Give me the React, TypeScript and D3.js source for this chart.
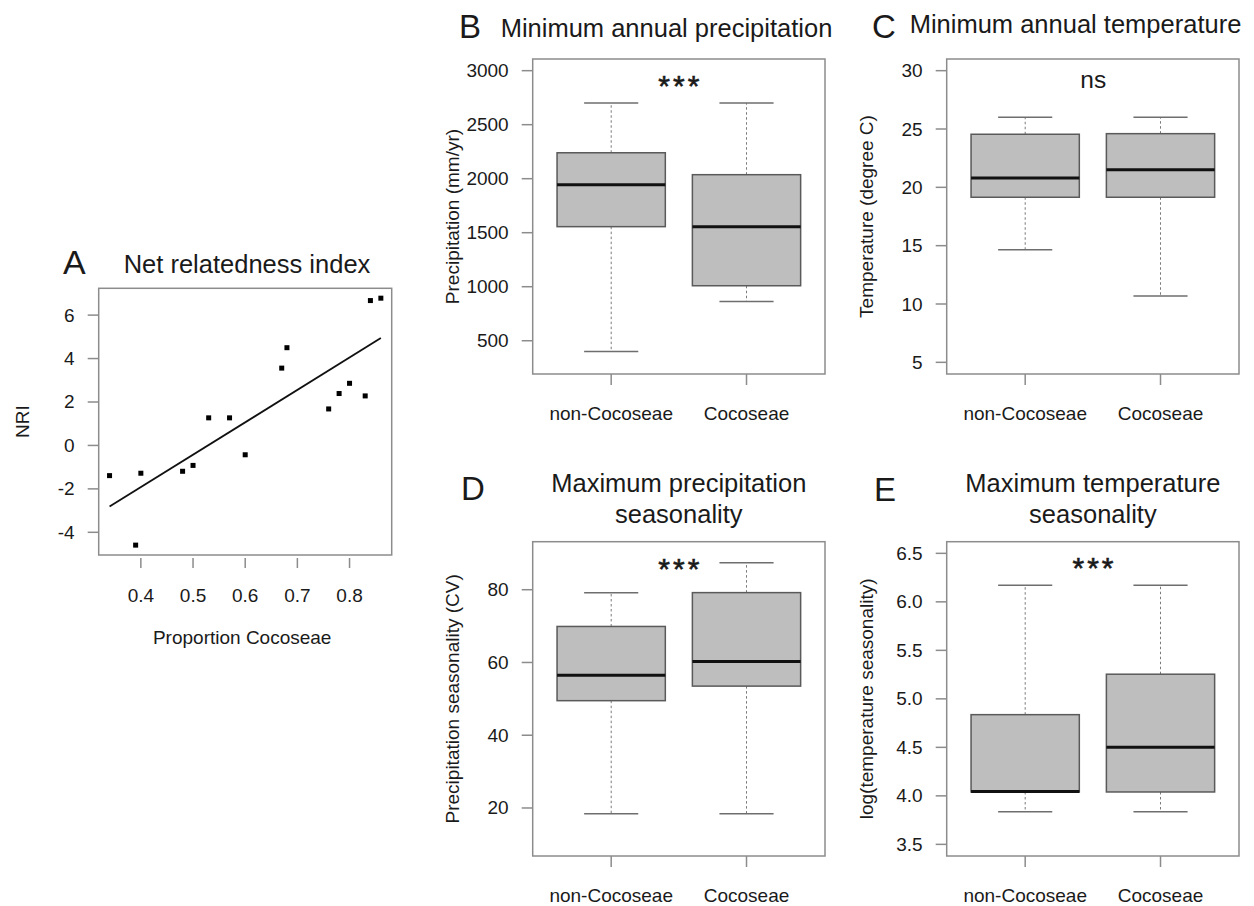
import React from "react";
import * as d3 from "d3";

// ---------- Data ----------
const nriProportion = [0.34, 0.39, 0.40, 0.48, 0.50, 0.53, 0.57, 0.60, 0.67, 0.68, 0.76, 0.78, 0.80, 0.83, 0.84, 0.86];
const nriValues = [-1.39, -4.59, -1.28, -1.19, -0.92, 1.27, 1.27, -0.43, 3.56, 4.50, 1.68, 2.39, 2.86, 2.28, 6.67, 6.78];
const nriXTicks = [0.4, 0.5, 0.6, 0.7, 0.8];
const nriYTicks = [-4, -2, 0, 2, 4, 6];

const groups = ["non-Cocoseae", "Cocoseae"];
// [lower whisker, Q1, median, Q3, upper whisker]
const minPrecip = [[400, 1556, 1944, 2240, 2700], [864, 1009, 1556, 2037, 2700]];
const minTemp = [[14.65, 19.15, 20.8, 24.55, 26], [10.68, 19.15, 21.5, 24.6, 26]];
const maxPrecipSeas = [[18.4, 49.5, 56.5, 69.9, 79.2], [18.4, 53.5, 60.3, 79.2, 87.4]];
const maxTempSeas = [[3.835, 4.04, 4.044, 4.837, 6.17], [3.835, 4.04, 4.5, 5.254, 6.17]];

const precipTicks = [500, 1000, 1500, 2000, 2500, 3000];
const tempTicks = [5, 10, 15, 20, 25, 30];
const seasTicks = [20, 40, 60, 80];
const logTicks = [3.5, 4.0, 4.5, 5.0, 5.5, 6.0, 6.5];

const FONT = "'Liberation Sans', Arial, sans-serif";
const TXT = "#1a1a1a";
const FRAME = "#8c8c8c";

function yPad(lo: number, hi: number): [number, number] {
  const r = hi - lo;
  return [lo - 0.04 * r, hi + 0.04 * r];
}

type BoxPanelProps = {
  left: number; top: number; right: number; bottom: number;
  stats: number[][]; ylim: [number, number]; ticks: number[]; fmt: (v: number) => string;
  yLabel: string; letter: string; letterX: number; letterY: number;
  titleLines: string[]; titleX: number; titleY: number;
  annot: string; annotY: number; annotX: number; stars: boolean;
};

function BoxPanel(p: BoxPanelProps) {
  const y = d3.scaleLinear().domain(yPad(p.ylim[0], p.ylim[1])).range([p.bottom, p.top]);
  const x = d3.scaleLinear().domain([0.42, 2.58]).range([p.left, p.right]);
  const bw = x(1.4) - x(1);
  const cw = x(1.2) - x(1);
  const midY = (p.top + p.bottom) / 2;
  return (
    <g>
      <text x={p.letterX} y={p.letterY} fontSize={33} fill={TXT} fontFamily={FONT}>{p.letter}</text>
      {p.titleLines.map((t, i) => (
        <text key={i} x={p.titleX} y={p.titleY + i * 31} fontSize={25.5} textAnchor="middle" fill={TXT} fontFamily={FONT}>{t}</text>
      ))}
      {groups.map((g, i) => {
        const s = p.stats[i];
        const cx = x(i + 1);
        return (
          <g key={g}>
            <line x1={cx} x2={cx} y1={y(s[3])} y2={y(s[4])} stroke="#7a7a7a" strokeWidth={1} strokeDasharray="2.5,2.5" />
            <line x1={cx} x2={cx} y1={y(s[1])} y2={y(s[0])} stroke="#7a7a7a" strokeWidth={1} strokeDasharray="2.5,2.5" />
            <line x1={cx - cw} x2={cx + cw} y1={y(s[4])} y2={y(s[4])} stroke="#6e6e6e" strokeWidth={1.5} />
            <line x1={cx - cw} x2={cx + cw} y1={y(s[0])} y2={y(s[0])} stroke="#6e6e6e" strokeWidth={1.5} />
            <rect x={cx - bw} y={y(s[3])} width={2 * bw} height={y(s[1]) - y(s[3])} fill="#bebebe" stroke="#5a5a5a" strokeWidth={1.5} />
            <line x1={cx - bw} x2={cx + bw} y1={y(s[2])} y2={y(s[2])} stroke="#111" strokeWidth={3} />
            <line x1={cx} x2={cx} y1={p.bottom} y2={p.bottom + 11} stroke={FRAME} strokeWidth={1.5} />
            <text x={cx} y={p.bottom + 39.5} dominantBaseline="central" textAnchor="middle" fontSize={19} fill={TXT} fontFamily={FONT}>{g}</text>
          </g>
        );
      })}
      <rect x={p.left} y={p.top} width={p.right - p.left} height={p.bottom - p.top} fill="none" stroke={FRAME} strokeWidth={1.5} />
      {p.ticks.map((t) => (
        <g key={t}>
          <line x1={p.left - 11} x2={p.left} y1={y(t)} y2={y(t)} stroke={FRAME} strokeWidth={1.5} />
          <text x={p.left - 24} y={y(t)} dominantBaseline="central" textAnchor="end" fontSize={19} fill={TXT} fontFamily={FONT}>{p.fmt(t)}</text>
        </g>
      ))}
      <text transform={`translate(${p.left - 80},${midY}) rotate(-90)`} dominantBaseline="central" textAnchor="middle" fontSize={19} fill={TXT} fontFamily={FONT}>{p.yLabel}</text>
      {p.stars ? (
        <text x={p.annotX + 1.5} y={p.annotY} textAnchor="middle" fontSize={30} letterSpacing={3} fill={TXT} stroke={TXT} strokeWidth={0.6} fontFamily={FONT}>{p.annot}</text>
      ) : (
        <text x={p.annotX} y={p.annotY} textAnchor="middle" fontSize={24.5} fill={TXT} fontFamily={FONT}>{p.annot}</text>
      )}
    </g>
  );
}

function NriPanel() {
  const left = 98.7, right = 391.7, top = 288.3, bottom = 555;
  const x = d3.scaleLinear().domain(yPad(d3.min(nriProportion)!, d3.max(nriProportion)!)).range([left, right]);
  const y = d3.scaleLinear().domain(yPad(d3.min(nriValues)!, d3.max(nriValues)!)).range([bottom, top]);
  const mx = d3.mean(nriProportion)!;
  const my = d3.mean(nriValues)!;
  let sxy = 0, sxx = 0;
  nriProportion.forEach((v, i) => { sxy += (v - mx) * (nriValues[i] - my); sxx += (v - mx) * (v - mx); });
  const slope = sxy / sxx;
  const icpt = my - slope * mx;
  const x0 = d3.min(nriProportion)!, x1 = d3.max(nriProportion)!;
  const line = d3.line<number>().x((d) => x(d)).y((d) => y(icpt + slope * d));
  return (
    <g>
      <text x={63} y={274} fontSize={34} fill={TXT} fontFamily={FONT}>A</text>
      <text x={247} y={273.3} fontSize={25.5} textAnchor="middle" fill={TXT} fontFamily={FONT}>Net relatedness index</text>
      <rect x={left} y={top} width={right - left} height={bottom - top} fill="none" stroke={FRAME} strokeWidth={1.5} />
      <path d={line([x0, x1]) || ""} stroke="#111" strokeWidth={1.8} fill="none" />
      {nriProportion.map((v, i) => (
        <rect key={i} x={x(v) - 2.5} y={y(nriValues[i]) - 2.5} width={5} height={5} fill="#000" />
      ))}
      {nriYTicks.map((t) => (
        <g key={t}>
          <line x1={left - 11} x2={left} y1={y(t)} y2={y(t)} stroke={FRAME} strokeWidth={1.5} />
          <text x={left - 24} y={y(t)} dominantBaseline="central" textAnchor="end" fontSize={19} fill={TXT} fontFamily={FONT}>{t}</text>
        </g>
      ))}
      {nriXTicks.map((t) => (
        <g key={t}>
          <line x1={x(t)} x2={x(t)} y1={bottom + 3} y2={bottom + 13} stroke={FRAME} strokeWidth={1.5} />
          <text x={x(t)} y={bottom + 40} dominantBaseline="central" textAnchor="middle" fontSize={19} fill={TXT} fontFamily={FONT}>{t.toFixed(1)}</text>
        </g>
      ))}
      <text x={(left + right) / 2 - 3} y={bottom + 82} dominantBaseline="central" textAnchor="middle" fontSize={19} fill={TXT} fontFamily={FONT}>Proportion Cocoseae</text>
      <text transform={`translate(${left - 76},${(top + bottom) / 2}) rotate(-90)`} dominantBaseline="central" textAnchor="middle" fontSize={19} fill={TXT} fontFamily={FONT}>NRI</text>
    </g>
  );
}

export default function App() {
  return (
    <svg width={1254} height={906} style={{ position: "absolute", left: 0, top: 0, background: "#fff" }}>
      <rect width={1254} height={906} fill="#fff" />
      <NriPanel />
      <BoxPanel left={532.7} right={825} top={59} bottom={374} stats={minPrecip} ylim={[300, 3000]} ticks={precipTicks}
        fmt={(v) => String(v)} yLabel="Precipitation (mm/yr)" letter="B" letterX={459} letterY={37.5}
        titleLines={["Minimum annual precipitation"]} titleX={666.5} titleY={37.3}
        annot="***" annotX={678.8} annotY={96} stars={true} />
      <BoxPanel left={946.7} right={1239} top={59} bottom={374} stats={minTemp} ylim={[5, 30]} ticks={tempTicks}
        fmt={(v) => String(v)} yLabel="Temperature (degree C)" letter="C" letterX={872} letterY={37.5}
        titleLines={["Minimum annual temperature"]} titleX={1075.5} titleY={33.3}
        annot="ns" annotX={1093.3} annotY={88.3} stars={false} />
      <BoxPanel left={532.7} right={825} top={541.7} bottom={856} stats={maxPrecipSeas} ylim={[10, 90]} ticks={seasTicks}
        fmt={(v) => String(v)} yLabel="Precipitation seasonality (CV)" letter="D" letterX={461} letterY={500}
        titleLines={["Maximum precipitation", "seasonality"]} titleX={678.8} titleY={491.7}
        annot="***" annotX={678.8} annotY={578.5} stars={true} />
      <BoxPanel left={946.7} right={1239} top={541.7} bottom={856} stats={maxTempSeas} ylim={[3.5, 6.5]} ticks={logTicks}
        fmt={(v) => v.toFixed(1)} yLabel="log(temperature seasonality)" letter="E" letterX={874} letterY={501}
        titleLines={["Maximum temperature", "seasonality"]} titleX={1092.9} titleY={491.7}
        annot="***" annotX={1093} annotY={578} stars={true} />
    </svg>
  );
}
